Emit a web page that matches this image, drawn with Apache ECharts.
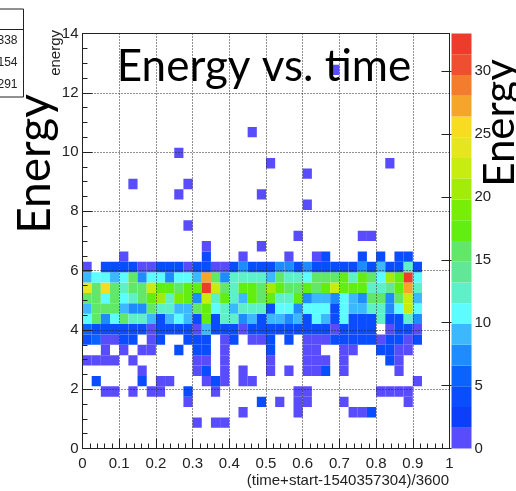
<!DOCTYPE html>
<html><head><meta charset="utf-8">
<script src="https://cdn.jsdelivr.net/npm/echarts@6/dist/echarts.min.js"></script>
<style>html,body{margin:0;padding:0;background:#fff;overflow:hidden}#c{width:516px;height:491px}</style>
</head><body><div id="c"></div>
<script>
// ---- histogram binning (TH2: 40 bins in time 0..1, 40 bins in energy 0..14)
const binWidthX = 0.025;
const binWidthY = 0.35;
const zMax = 33;
const nContours = 20;

// ---- dense band: counts per time bin (bins 0..36) for energy bins 10..17
const energyBin10 = [4,6,1,1,4,4,0,1,4,0,0,4,4,4,0,1,4,0,1,1,4,0,4,0,1,1,1,4,4,4,4,4,1,4,4,1,4];
const energyBin11 = [6,4,4,4,4,4,4,1,4,4,4,4,1,9,4,4,4,1,4,4,4,4,4,4,4,4,4,1,4,4,4,4,0,1,4,4,1];
const energyBin12 = [11,16,8,11,16,13,13,9,4,9,11,9,4,18,4,13,13,8,9,4,9,9,8,9,4,11,9,4,11,4,4,4,13,4,4,13,8];
const energyBin13 = [9,16,16,16,9,8,8,16,13,13,9,9,16,18,11,13,9,13,13,13,4,11,11,8,11,11,11,4,11,9,9,13,13,8,11,23,11];
const energyBin14 = [16,16,11,16,11,13,16,18,21,13,19,18,8,23,13,18,13,9,18,16,18,13,13,18,8,9,9,8,11,9,8,16,16,8,16,23,9];
const energyBin15 = [24,16,26,16,13,16,16,23,18,18,16,18,18,33,23,16,13,18,18,16,21,18,16,16,18,16,18,23,18,18,18,13,13,14,18,28,13];
const energyBin16 = [9,11,11,9,11,16,8,11,11,8,11,11,9,28,16,8,13,13,13,13,9,16,13,13,11,16,16,16,18,13,18,16,11,21,18,33,11];
const energyBin17 = [1,0,4,4,4,4,1,1,4,4,4,1,4,4,1,1,4,8,4,4,4,8,8,4,8,4,4,4,4,4,8,4,9,4,4,13,4];
const denseRows = [[10, energyBin10],[11, energyBin11],[12, energyBin12],[13, energyBin13],
                   [14, energyBin14],[15, energyBin15],[16, energyBin16],[17, energyBin17]];

// ---- sparse bins: [time bin, energy bin, count]
const sparseBins = [
  [12,2,1],[14,2,1],[15,2,1],
  [17,3,1],[23,3,1],[29,3,1],[30,3,1],[31,3,4],
  [11,4,1],[19,4,4],[21,4,1],[23,4,1],[24,4,1],[28,4,1],[35,4,1],
  [2,5,1],[3,5,1],[5,5,1],[7,5,1],[8,5,1],[11,5,4],[14,5,1],[23,5,1],[24,5,1],[32,5,1],[33,5,1],[34,5,1],[35,5,1],
  [1,6,4],[6,6,4],[8,6,1],[9,6,1],[13,6,1],[14,6,4],[15,6,1],[17,6,1],[18,6,1],[36,6,1],
  [6,7,1],[12,7,1],[13,7,4],[15,7,1],[17,7,1],[20,7,1],[22,7,1],[24,7,1],[25,7,1],[26,7,4],[28,7,1],[34,7,1],
  [0,8,1],[1,8,1],[2,8,1],[3,8,1],[5,8,1],[12,8,1],[13,8,1],[15,8,1],[20,8,1],[24,8,1],[25,8,1],[26,8,1],[28,8,1],[33,8,4],[34,8,1],
  [2,9,1],[4,9,1],[6,9,1],[7,9,1],[10,9,4],[12,9,4],[13,9,4],[15,9,1],[20,9,4],[24,9,1],[25,9,1],[28,9,1],[29,9,1],[32,9,4],[33,9,4],[34,9,1],[35,9,1],
  [4,18,1],[13,18,4],[17,18,1],[22,18,1],[25,18,1],[26,18,4],[30,18,4],[32,18,4],[34,18,4],[35,18,4],
  [13,19,1],[19,19,1],
  [23,20,1],[30,20,1],[31,20,1],
  [11,21,1],[24,23,1],[10,24,1],[19,24,1],[5,25,1],[11,25,1],[24,26,1],[20,27,1],[33,27,1],[10,28,1],[18,30,1],[27,36,1]
];

// ---- axis ticks
const xTicks = [0,0.1,0.2,0.3,0.4,0.5,0.6,0.7,0.8,0.9,1];
const yTicks = [0,2,4,6,8,10,12,14];
const zTicks = [0,5,10,15,20,25,30];
const statsValues = ['338','154','291'];

// ---- palette (20 contour colours, low -> high)
const palette = ['#584cfc','#0c3efc','#0a4cff','#0a62ff','#1e8cff','#3cb8ff','#5cfcff','#5ef0c8',
  '#60e898','#62e868','#62ee10','#78ee06','#a3ec08','#c6ec10','#e6e61e','#f8dc20',
  '#f5a62a','#f47d2d','#f04e30','#ee3c2c'];
function colorFor(v){
  const k = Math.min(nContours-1, Math.floor(v/(zMax/nContours)));
  return palette[k];
}

// build cell data from arrays
const cellData = [];
denseRows.forEach(([j, arr]) => arr.forEach((v, i) => { if (v > 0) cellData.push([i*binWidthX, j*binWidthY, v]); }));
sparseBins.forEach(([i, j, v]) => cellData.push([i*binWidthX, j*binWidthY, v]));

const levelData = [];
for (let k = 0; k < nContours; k++) levelData.push([k*zMax/nContours, (k+1)*zMax/nContours, k]);

const font = 'Liberation Sans';
const chart = echarts.init(document.getElementById('c'), null, {renderer:'canvas'});
chart.setOption({
  animation: false,
  backgroundColor: '#fff',
  grid: [
    {left: 82.5, right: 66.5, top: 33.5, bottom: 42.5, show: true, borderColor: '#222', borderWidth: 1, backgroundColor: 'transparent', z: 10},
    {left: 451.5, right: 44.5, top: 33.5, bottom: 42.5}
  ],
  xAxis: [
    {type:'value', gridIndex:0, min:0, max:1, interval:0.1, z:5,
     axisLine:{show:true, lineStyle:{color:'#222'}},
     axisTick:{inside:true, length:10, lineStyle:{color:'#222'}},
     minorTick:{show:true, splitNumber:5, length:5, lineStyle:{color:'#222'}},
     splitLine:{show:true, lineStyle:{color:'#222', type:[1,2], width:1}},
     axisLabel:{customValues:xTicks, color:'#222', fontFamily:font, fontSize:15, margin:8}},
    {type:'value', gridIndex:1, min:0, max:1, show:false}
  ],
  yAxis: [
    {type:'value', gridIndex:0, min:0, max:14, interval:2, z:5,
     axisLine:{show:true, lineStyle:{color:'#222'}},
     axisTick:{inside:true, length:10, lineStyle:{color:'#222'}},
     minorTick:{show:true, splitNumber:4, length:5, lineStyle:{color:'#222'}},
     splitLine:{show:true, lineStyle:{color:'#222', type:[1,2], width:1}},
     axisLabel:{customValues:yTicks, color:'#222', fontFamily:font, fontSize:15, margin:4}},
    {type:'value', gridIndex:1, min:0, max:zMax, position:'right', z:5,
     axisLine:{show:false},
     axisTick:{inside:true, length:10, customValues:zTicks, lineStyle:{color:'#222'}},
     splitLine:{show:false},
     axisLabel:{customValues:zTicks, color:'#222', fontFamily:font, fontSize:15, margin:3}}
  ],
  series: [
    {type:'custom', xAxisIndex:0, yAxisIndex:0, z:2, clip:true, data: cellData,
     renderItem: function(params, api){
       const x0 = api.value(0), y0 = api.value(1), v = api.value(2);
       const a = api.coord([x0, y0]);
       const b = api.coord([x0 + binWidthX, y0 + binWidthY]);
       return {type:'rect', shape:{x:a[0], y:b[1], width:b[0]-a[0], height:a[1]-b[1]}, style:{fill: colorFor(v)}};
     }},
    {type:'custom', xAxisIndex:1, yAxisIndex:1, z:2, data: levelData,
     renderItem: function(params, api){
       const lo = api.value(0), hi = api.value(1), k = api.value(2);
       const a = api.coord([0, lo]);
       const b = api.coord([1, hi]);
       return {type:'rect', shape:{x:a[0], y:b[1], width:b[0]-a[0], height:a[1]-b[1]}, style:{fill: palette[k]}};
     }}
  ],
  graphic: [
    {type:'rect', left:-10, top:8.5, shape:{width:33, height:88}, style:{fill:'#fff', stroke:'#222', lineWidth:1}, z:20},
    {type:'line', shape:{x1:0, y1:29.5, x2:23, y2:29.5}, style:{stroke:'#222', lineWidth:1}, z:21},
    {type:'text', x:17.5, y:41, z:21, style:{text:statsValues[0], font:'12px "Liberation Sans"', fill:'#222', align:'right', verticalAlign:'middle'}},
    {type:'text', x:17.5, y:63, z:21, style:{text:statsValues[1], font:'12px "Liberation Sans"', fill:'#222', align:'right', verticalAlign:'middle'}},
    {type:'text', x:17.5, y:85, z:21, style:{text:statsValues[2], font:'12px "Liberation Sans"', fill:'#222', align:'right', verticalAlign:'middle'}},
    {type:'text', x:56, y:30, rotation:Math.PI/2, z:21, style:{text:'energy', font:'15px "Liberation Sans"', fill:'#222', align:'right', verticalAlign:'middle'}},
    {type:'text', x:264, y:67, z:30, style:{text:'Energy vs. time', font:'44px Lato', fill:'#000', align:'center', verticalAlign:'middle'}},
    {type:'text', x:35, y:164, rotation:Math.PI/2, z:30, style:{text:'Energy', font:'46px Lato', fill:'#000', align:'center', verticalAlign:'middle'}},
    {type:'text', x:500, y:123, rotation:Math.PI/2, z:30, style:{text:'Energy', font:'42px Lato', fill:'#000', align:'center', verticalAlign:'middle'}},
    {type:'text', x:449, y:481, z:21, style:{text:'(time+start-1540357304)/3600', font:'15px "Liberation Sans"', fill:'#222', align:'right', verticalAlign:'middle'}}
  ]
});
</script></body></html>
